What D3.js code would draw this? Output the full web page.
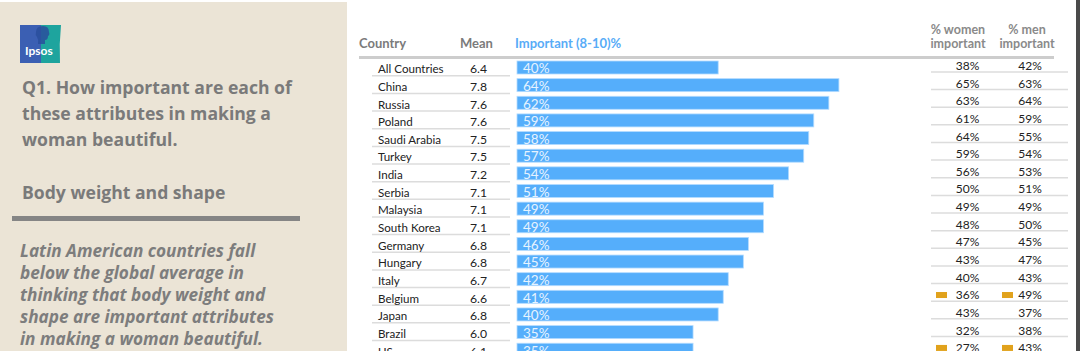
<!DOCTYPE html>
<html>
<head>
<meta charset="utf-8">
<script src="https://cdn.jsdelivr.net/npm/d3@7"></script>
<style>
  html, body { margin: 0; padding: 0; background: #fff; }
  svg { display: block; }
</style>
</head>
<body>
<div id="chart"></div>
<script>
// data
const countries = ["All Countries", "China", "Russia", "Poland", "Saudi Arabia", "Turkey", "India", "Serbia",
  "Malaysia", "South Korea", "Germany", "Hungary", "Italy", "Belgium", "Japan", "Brazil", "US"];
const meanScores = ["6.4", "7.8", "7.6", "7.6", "7.5", "7.5", "7.2", "7.1", "7.1", "7.1", "6.8", "6.8", "6.7", "6.6", "6.8", "6.0", "6.1"];
const importantPct = [40, 64, 62, 59, 58, 57, 54, 51, 49, 49, 46, 45, 42, 41, 40, 35, 35];
const womenPct = [38, 65, 63, 61, 64, 59, 56, 50, 49, 48, 47, 43, 40, 36, 43, 32, 27];
const menPct = [42, 63, 64, 59, 55, 54, 53, 51, 49, 50, 45, 47, 43, 49, 37, 38, 43];
const flaggedCountries = ["Belgium", "US"];

const columnHeaders = ["Country", "Mean", "Important (8-10)%"];
const genderHeaders = [["% women", "important"], ["% men", "important"]];

const titleLines = ["Q1. How important are each of", "these attributes in making a", "woman beautiful."];
const subTitle = "Body weight and shape";
const noteLines = ["Latin American countries fall", "below the global average in", "thinking that body weight and",
  "shape are important attributes", "in making a woman beautiful."];

const width = 1080, height = 351;
const svg = d3.select("#chart").append("svg")
  .attr("width", width).attr("height", height)
  .style("font-family", "Lato, 'Open Sans', sans-serif");

// ---- left panel ----
svg.append("rect").attr("x", 0).attr("y", 2).attr("width", 347).attr("height", height - 2).attr("fill", "#ebe4d6");

const logo = svg.append("g").attr("transform", "translate(20,25)");
logo.append("path").attr("d", "M0,0 H41 Q39,19 40,38 H0 Z").attr("fill", "#1ea49e");
logo.append("path").attr("d", "M0,0 H21 V38 H0 Z").attr("fill", "#3b5fb3");
logo.append("path").attr("d", "M16,7 Q16,1 23,1 Q29,1 29,7 Q30,10 28,11 Q28,15 25,15 L25,19 L18,19 Q19,15 17,12 Q15,10 16,7 Z")
  .attr("fill", "#2a4f9c").attr("opacity", 0.85);
logo.append("text").attr("x", 5).attr("y", 30).attr("fill", "#fff")
  .attr("font-size", 12).attr("font-weight", 700).text("Ipsos");

const panelFont = "'Open Sans', sans-serif";
svg.append("g").selectAll("text").data(titleLines).join("text")
  .attr("x", 22).attr("y", (d, i) => 94 + i * 26)
  .attr("fill", "#7a7a7a").attr("font-size", 17.6).attr("font-weight", 700)
  .style("font-family", panelFont)
  .text(d => d);

svg.append("text").attr("x", 22).attr("y", 199)
  .attr("fill", "#7a7a7a").attr("font-size", 17.6).attr("font-weight", 700)
  .style("font-family", panelFont).text(subTitle);

svg.append("rect").attr("x", 12).attr("y", 216).attr("width", 288).attr("height", 5).attr("fill", "#858585");

svg.append("g").selectAll("text").data(noteLines).join("text")
  .attr("x", 20).attr("y", (d, i) => 257 + i * 22)
  .attr("fill", "#7d7d7d").attr("font-size", 17.2).attr("font-weight", 700).attr("font-style", "italic")
  .style("font-family", panelFont)
  .text(d => d);

// ---- right edge bar ----
svg.append("rect").attr("x", 1076).attr("y", 0).attr("width", 4).attr("height", height).attr("fill", "#4a4a4a");

// ---- table ----
const rowStep = 17.64;
const y = d3.scaleBand().domain(countries).range([59, 59 + countries.length * rowStep]).padding(0);
const x = d3.scaleLinear().domain([0, 100]).range([517, 1020]);

const headerColor = "#7b7b7b";
svg.append("text").attr("x", 359).attr("y", 48).attr("fill", headerColor)
  .attr("font-size", 13).attr("font-weight", 700).text(columnHeaders[0]);
svg.append("text").attr("x", 460).attr("y", 48).attr("fill", headerColor)
  .attr("font-size", 13).attr("font-weight", 700).text(columnHeaders[1]);
svg.append("text").attr("x", 515).attr("y", 48).attr("fill", "#58acf7")
  .attr("font-size", 13).attr("font-weight", 700).text(columnHeaders[2]);

const genderX = [958, 1027];
genderHeaders.forEach((lines, k) => {
  svg.append("g").selectAll("text").data(lines).join("text")
    .attr("x", genderX[k]).attr("y", (d, i) => 34 + i * 13.5)
    .attr("text-anchor", "middle").attr("fill", "#8a8a8a")
    .attr("font-size", 12.5).attr("font-weight", 700).text(d => d);
});

svg.append("rect").attr("x", 359).attr("y", 56).attr("width", 695).attr("height", 3).attr("fill", "#cdcdcd");

const rows = svg.append("g").selectAll("g").data(countries).join("g")
  .attr("transform", d => `translate(0,${y(d)})`);

// left separators
rows.append("line").attr("x1", 372).attr("x2", 510)
  .attr("y1", rowStep - 0.8).attr("y2", rowStep - 0.8)
  .attr("stroke", "#dcdcdc").attr("stroke-width", 1.5);

rows.append("text").attr("x", 378).attr("y", 14.3)
  .attr("fill", "#222").attr("font-size", 11.6).text(d => d);

rows.append("text").attr("x", 478.5).attr("y", 14.3).attr("text-anchor", "middle")
  .attr("fill", "#222").attr("font-size", 12.2).text((d, i) => meanScores[i]);

// bars
rows.append("rect")
  .attr("x", x(0)).attr("y", 2)
  .attr("width", (d, i) => x(importantPct[i]) - x(0)).attr("height", 13)
  .attr("fill", "#55aefb").attr("stroke", "#b3dbff").attr("stroke-width", 0.8);

rows.append("text").attr("x", 523).attr("y", 14.3)
  .attr("fill", "#e6f3ff").attr("font-size", 13.5).text((d, i) => importantPct[i] + "%");

// right separators and values
rows.append("line").attr("x1", 931).attr("x2", 1068)
  .attr("y1", 12.9).attr("y2", 12.9)
  .attr("stroke", "#dcdcdc").attr("stroke-width", 1.5);

rows.append("text").attr("x", 967.5).attr("y", 11).attr("text-anchor", "middle")
  .attr("fill", "#222").attr("font-size", 12).text((d, i) => womenPct[i] + "%");
rows.append("text").attr("x", 1030).attr("y", 11).attr("text-anchor", "middle")
  .attr("fill", "#222").attr("font-size", 12).text((d, i) => menPct[i] + "%");

// significance markers
const flagged = rows.filter(d => flaggedCountries.includes(d));
flagged.append("rect").attr("x", 936).attr("y", 3.7).attr("width", 11).attr("height", 6).attr("fill", "#e1a21c");
flagged.append("rect").attr("x", 1002).attr("y", 3.7).attr("width", 11).attr("height", 6).attr("fill", "#e1a21c");
</script>
</body>
</html>
